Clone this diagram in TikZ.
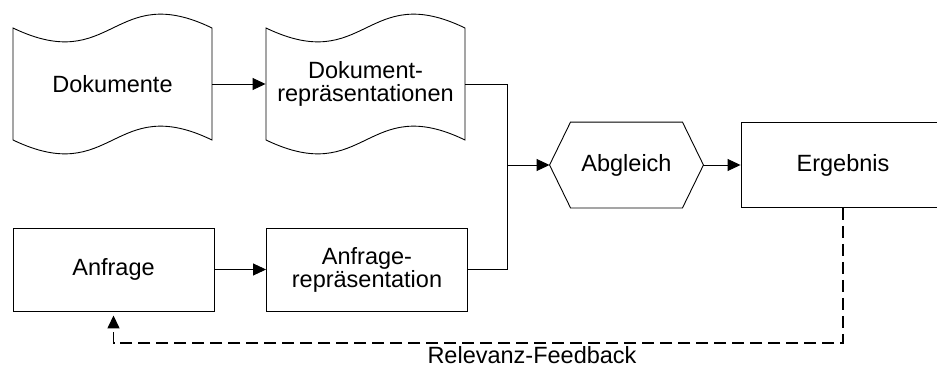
\documentclass[tikz,border=0pt]{standalone}
\usepackage{fontspec}
\setmainfont{Liberation Sans}
\usetikzlibrary{arrows.meta}

\tikzset{
    docshape/.pic={
        \draw (0,0) .. controls (100,48) and (100,-48) .. (199,0) -- (199,112)
            .. controls (100,64) and (100,160) .. (0,112) -- cycle;
    },
    txt/.style={align=center, font=\fontsize{23.5}{23}\selectfont},
    box/.style={txt, draw, minimum width=201pt, minimum height=83pt},
}

\begin{document}
\begin{tikzpicture}[x=1pt, y=-1pt, line width=0.9pt, >={Triangle[length=13pt, width=12pt]}]
    \useasboundingbox (0,0) rectangle (937,367);

    % documents
    \pic at (13,28) {docshape};
    \pic at (266,28) {docshape};
    \node[txt, minimum width=199pt, minimum height=112pt] (dok) at (112.5,84) {Dokumente};
    \node[txt, minimum width=199pt, minimum height=112pt] (dokrep) at (365.5,84) {Dokument-\\repräsentationen};

    % query
    \node[box] (anfr) at (113.5,269.5) {Anfrage};
    \node[box] (anfrrep) at (367,269.5) {Anfrage-\\repräsentation};

    % matching
    \node[txt, minimum width=153pt, minimum height=85pt] (abgl) at (626.5,165) {Abgleich};
    \draw ([xshift=21pt]abgl.north west) -- ([xshift=-21pt]abgl.north east) -- (abgl.east)
        -- ([xshift=-21pt]abgl.south east) -- ([xshift=21pt]abgl.south west) -- (abgl.west) -- cycle;

    \node[box, minimum width=204pt, minimum height=85pt] (erg) at (843,165) {Ergebnis};

    \coordinate (join) at (507,165);
    \draw[->] (dok) -- (dokrep);
    \draw[->] (anfr) -- (anfrrep);
    \draw (dokrep.east) -| (join);
    \draw (anfrrep.east) -| (join);
    \draw[->] (join) -- (abgl.west);
    \draw[->] (abgl) -- (erg);

    % feedback
    \coordinate (fb) at (843,343);
    \draw[->, dash pattern=on 12pt off 6pt, line width=1.5pt, shorten >=4pt]
        (erg.south) -- (fb) -| (anfr.south);
    \node[txt, anchor=base, inner sep=0pt] (fblabel) at (532,363) {Relevanz-Feedback};
\end{tikzpicture}
\end{document}
